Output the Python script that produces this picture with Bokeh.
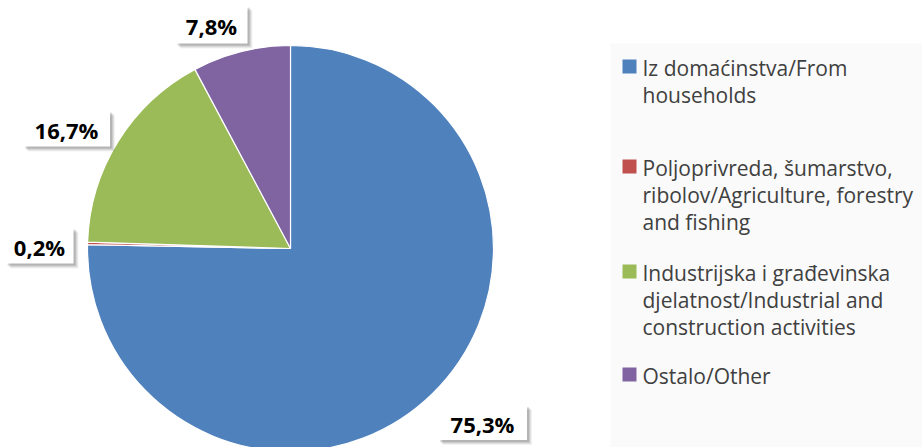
from bokeh.plotting import figure
from bokeh.models import Range1d
from bokeh.embed import file_html
from bokeh.resources import INLINE
from bokeh.core.properties import value
import math

# ---- data ----
categories = ["Iz domaćinstva/From households",
              "Poljoprivreda, šumarstvo, ribolov/Agriculture, forestry and fishing",
              "Industrijska i građevinska djelatnost/Industrial and construction activities",
              "Ostalo/Other"]
legend_lines = [["Iz domaćinstva/From", "households"],
                ["Poljoprivreda, šumarstvo,", "ribolov/Agriculture, forestry", "and fishing"],
                ["Industrijska i građevinska", "djelatnost/Industrial and", "construction activities"],
                ["Ostalo/Other"]]
shares = [75.3, 0.2, 16.7, 7.8]
labels = ["75,3%", "0,2%", "16,7%", "7,8%"]
colors = ["#4f81bd", "#c0504d", "#9bbb59", "#8064a2"]

# ---- layout (reference pixel coords) ----
W, H = 922, 447
REF_H = 447
def Y(yref):
    return REF_H - yref

cx, cy, r = 290, 248, 203
label_boxes = [(482, 422, 89, 35), (39, 245, 68, 36), (66, 128, 87, 36), (211, 24, 72, 38)]
legend_first_y = [66, 166, 271, 374]
line_gap = 27

p = figure(width=W, height=H, output_backend="svg", toolbar_location=None,
           x_range=Range1d(0, W), y_range=Range1d(REF_H - H, REF_H),
           min_border=0)
p.axis.visible = False
p.grid.visible = False
p.outline_line_color = None
p.background_fill_color = "white"

# legend background
p.quad(left=610, right=930, bottom=Y(460), top=Y(43), fill_color="#fafafa", line_color=None)

# pie
total = sum(shares)
cum = 0.0
starts, ends = [], []
for s in shares:
    starts.append(math.pi / 2 - 2 * math.pi * cum / total)
    cum += s
    ends.append(math.pi / 2 - 2 * math.pi * cum / total)
p.wedge(x=[cx] * len(shares), y=[Y(cy)] * len(shares), radius=r,
        start_angle=starts, end_angle=ends, direction="clock",
        fill_color=colors, line_color="white", line_width=1.2)

# data labels with shadowed white boxes
for (bx, by, bw, bh), lab in zip(label_boxes, labels):
    for off, a in [(5, 0.05), (4, 0.07), (3, 0.09), (2, 0.11)]:
        p.rect(x=bx + off, y=Y(by) - off, width=bw, height=bh,
               fill_color="#000000", fill_alpha=a, line_color=None)
    p.rect(x=bx, y=Y(by), width=bw, height=bh, fill_color="white", line_color=None)
    p.text(x=[bx], y=[Y(by) - 1], text=[lab], text_font=value("Open Sans"),
           text_font_style="bold", text_font_size="22px", text_color="#000000",
           text_align="center", text_baseline="middle")

# legend
for lines, fy, col in zip(legend_lines, legend_first_y, colors):
    p.rect(x=629, y=Y(fy), width=14, height=14, fill_color=col, line_color=None)
    for i, ln in enumerate(lines):
        p.text(x=[642], y=[Y(fy + i * line_gap) - 1], text=[ln], text_font=value("Open Sans"),
               text_font_size="21px", text_color="#404040",
               text_align="left", text_baseline="middle")

open("out.html", "w").write(file_html(p, INLINE))
